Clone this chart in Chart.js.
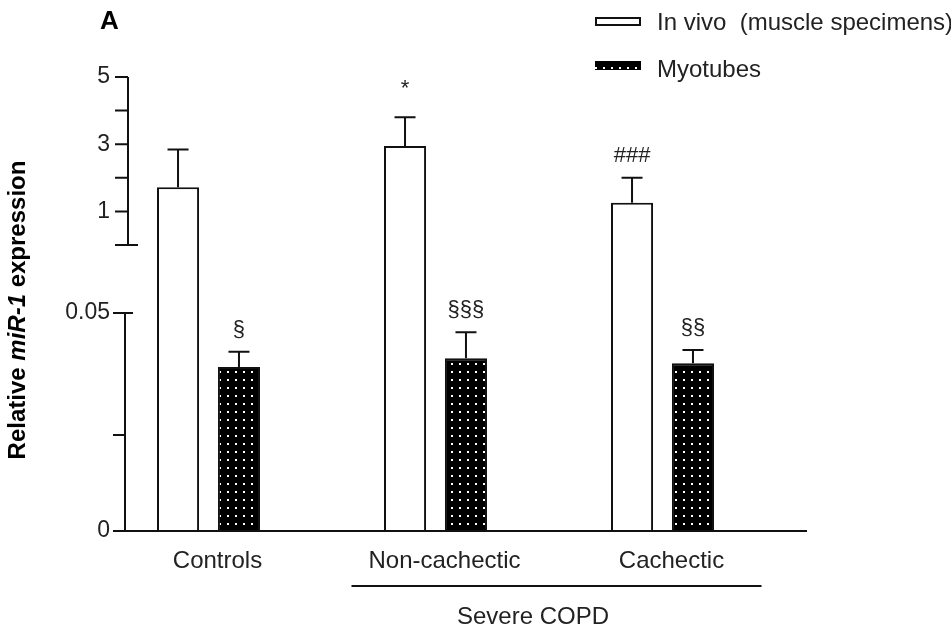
<!DOCTYPE html>
<html>
<head>
<meta charset="utf-8">
<script src="https://cdn.jsdelivr.net/npm/chart.js@4/dist/chart.umd.min.js"></script>
<style>
  html, body { margin: 0; padding: 0; background: #fff; }
  #wrap { width: 951px; height: 635px; }
</style>
</head>
<body>
<div id="wrap"><canvas id="chart"></canvas></div>
<script>
// data
const categories = ['Controls', 'Non-cachectic', 'Cachectic'];
const inVivo = [1.72, 2.95, 1.26];        // upper (broken) axis, 0..5
const inVivoSem = [1.12, 0.85, 0.74];
const myotubes = [0.0376, 0.0396, 0.0385]; // lower axis, 0..0.05
const myotubesSem = [0.0035, 0.0060, 0.0030];
const inVivoMarks = ['', '*', '###'];
const myotubesMarks = ['§', '§§§', '§§'];
const lowerTicks = [0, 0.022, 0.05];
const lowerTickLabels = ['0', '', '0.05'];
const upperTicks = [0, 1, 2, 3, 4, 5];
const upperTickLabels = ['', '1', '', '3', '', '5'];

// broken axis: lower segment 0..0.05, then a gap, then upper segment 0..5
const LOW_MAX = 0.05, LOW_SPAN = 218;
const UP_BASE = 286, UP_PER = 33.6;
const Y_TOP = UP_BASE + 5 * UP_PER;
function lowPos(v) { return v / LOW_MAX * LOW_SPAN; }
function upPos(v) { return UP_BASE + v * UP_PER; }

const FONT = '"Liberation Sans", Arial, sans-serif';
const TXT = '#222';

function dotPattern() {
    const c = document.createElement('canvas');
    c.width = 8; c.height = 8;
    const g = c.getContext('2d');
    g.fillStyle = '#000';
    g.fillRect(0, 0, 8, 8);
    g.fillStyle = '#fff';
    g.fillRect(3, 3, 2, 2);
    return g.createPattern(c, 'repeat');
}
const dots = dotPattern();

const extras = {
    id: 'extras',
    afterDatasetsDraw(chart) {
        const ctx = chart.ctx;
        const y = chart.scales.y, x = chart.scales.x;
        const area = chart.chartArea;
        ctx.save();
        ctx.strokeStyle = '#111';
        ctx.fillStyle = TXT;
        ctx.lineWidth = 2;

        // error bars and significance marks
        const series = [
            { mean: inVivo, sem: inVivoSem, pos: upPos, marks: inVivoMarks },
            { mean: myotubes, sem: myotubesSem, pos: lowPos, marks: myotubesMarks }
        ];
        series.forEach((s, di) => {
            const meta = chart.getDatasetMeta(di);
            meta.data.forEach((bar, i) => {
                const top = y.getPixelForValue(s.pos(s.mean[i] + s.sem[i]));
                ctx.beginPath();
                ctx.moveTo(bar.x, bar.y);
                ctx.lineTo(bar.x, top);
                ctx.moveTo(bar.x - 10.5, top);
                ctx.lineTo(bar.x + 10.5, top);
                ctx.stroke();
                if (s.marks[i]) {
                    ctx.font = '22px ' + FONT;
                    ctx.textAlign = 'center';
                    ctx.textBaseline = 'middle';
                    const off = s.marks[i] === '*' ? 28 : 22;
                    ctx.fillText(s.marks[i], bar.x, top - off);
                }
            });
        });

        // broken y axis
        ctx.font = '23px ' + FONT;
        ctx.textAlign = 'right';
        ctx.textBaseline = 'middle';
        const lx = area.left + 30, ux = area.left + 33;
        ctx.beginPath();
        ctx.moveTo(lx, y.getPixelForValue(lowPos(0)));
        ctx.lineTo(lx, y.getPixelForValue(lowPos(LOW_MAX)));
        lowerTicks.forEach((t, i) => {
            const py = y.getPixelForValue(lowPos(t));
            ctx.moveTo(lx - 12, py);
            ctx.lineTo(t === LOW_MAX ? lx + 8 : lx, py);
            if (lowerTickLabels[i]) ctx.fillText(lowerTickLabels[i], area.left + 15, py);
        });
        ctx.moveTo(ux, y.getPixelForValue(upPos(0)));
        ctx.lineTo(ux, y.getPixelForValue(upPos(5)));
        upperTicks.forEach((t, i) => {
            const py = y.getPixelForValue(upPos(t));
            ctx.moveTo(ux - 13, py);
            ctx.lineTo(t === 0 ? ux + 10 : ux, py);
            if (upperTickLabels[i]) ctx.fillText(upperTickLabels[i], area.left + 15, py);
        });
        // x baseline
        const by = y.getPixelForValue(0);
        ctx.moveTo(lx, by);
        ctx.lineTo(area.right + 31, by);
        // Severe COPD bracket
        const p1 = x.getPixelForValue(1), p2 = x.getPixelForValue(2);
        ctx.moveTo(p1 - 84, area.bottom + 55);
        ctx.lineTo(p2 + 99, area.bottom + 55);
        ctx.stroke();
        ctx.textAlign = 'center';
        ctx.font = '24px ' + FONT;
        ctx.fillText('Severe COPD', (p1 + p2) / 2 - 16, area.bottom + 86);

        // y title with italic gene name
        ctx.save();
        ctx.translate(18, 310);
        ctx.rotate(-Math.PI / 2);
        const parts = [['Relative ', 'bold 24px '], ['miR-1', 'italic bold 24px '], [' expression', 'bold 24px ']];
        let total = 0;
        parts.forEach(p => { ctx.font = p[1] + FONT; total += ctx.measureText(p[0]).width; });
        let cx = -total / 2;
        ctx.textAlign = 'left';
        ctx.fillStyle = '#000';
        parts.forEach(p => { ctx.font = p[1] + FONT; ctx.fillText(p[0], cx, 0); cx += ctx.measureText(p[0]).width; });
        ctx.restore();

        // panel letter
        ctx.font = 'bold 26px ' + FONT;
        ctx.textAlign = 'left';
        ctx.fillStyle = '#000';
        ctx.fillText('A', 100, 22);

        // legend
        ctx.font = '24px ' + FONT;
        ctx.fillStyle = '#fff';
        ctx.fillRect(596, 18, 44, 7);
        ctx.strokeRect(596, 18, 44, 7);
        ctx.fillStyle = dots;
        ctx.fillRect(595, 61, 46, 9);
        ctx.fillStyle = TXT;
        ctx.fillText('In vivo  (muscle specimens)', 657, 23);
        ctx.fillText('Myotubes', 657, 70);
        ctx.restore();
    }
};

new Chart(document.getElementById('chart'), {
    type: 'bar',
    data: {
        labels: categories,
        datasets: [
            {
                label: 'In vivo  (muscle specimens)',
                data: inVivo.map(upPos),
                backgroundColor: '#fff',
                borderColor: '#111',
                borderWidth: 2
            },
            {
                label: 'Myotubes',
                data: myotubes.map(lowPos),
                backgroundColor: dots,
                borderColor: '#111',
                borderWidth: 2
            }
        ]
    },
    options: {
        responsive: true,
        maintainAspectRatio: false,
        animation: false,
        layout: { padding: { left: 95, right: 175, top: 77, bottom: 64 } },
        datasets: { bar: { categoryPercentage: 0.537, barPercentage: 0.69 } },
        plugins: { legend: { display: false }, tooltip: { enabled: false } },
        scales: {
            x: {
                grid: { display: false, drawTicks: false },
                border: { display: false },
                afterFit(scale) { scale.height = 40; },
                ticks: {
                    color: TXT,
                    padding: 16,
                    labelOffset: 9,
                    font: { family: FONT, size: 24 }
                }
            },
            y: { display: false, min: 0, max: Y_TOP }
        }
    },
    plugins: [extras]
});
</script>
</body>
</html>
